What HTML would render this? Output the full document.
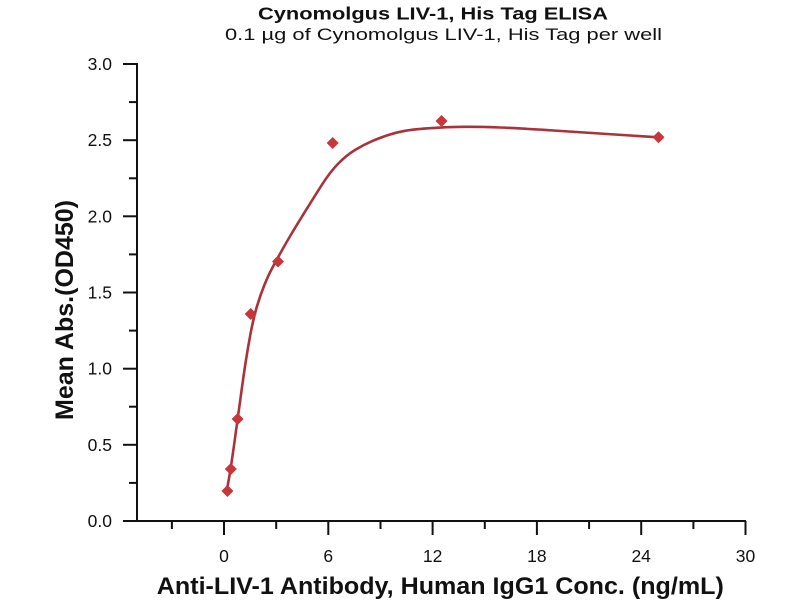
<!DOCTYPE html>
<html>
<head>
<meta charset="utf-8">
<style>
  html,body{margin:0;padding:0;background:#fff;}
  svg{display:block;}
  text{font-family:"Liberation Sans",sans-serif;fill:#111;}
</style>
</head>
<body>
<svg width="800" height="600" viewBox="0 0 800 600" xmlns="http://www.w3.org/2000/svg">
  <rect width="800" height="600" fill="#fff"/>
  <!-- Titles -->
  <text x="433" y="19.5" text-anchor="middle" font-size="17.5" font-weight="bold" textLength="350" lengthAdjust="spacingAndGlyphs">Cynomolgus LIV-1, His Tag ELISA</text>
  <text x="443.5" y="40" text-anchor="middle" font-size="17" textLength="437" lengthAdjust="spacingAndGlyphs">0.1 µg of Cynomolgus LIV-1, His Tag per well</text>

  <!-- Axes -->
  <g stroke="#111" stroke-width="2" fill="none">
    <line x1="137" y1="63" x2="137" y2="522"/>
    <line x1="136" y1="521" x2="746" y2="521"/>
    <!-- Y major ticks -->
    <line x1="123" y1="64" x2="137" y2="64"/>
    <line x1="123" y1="140.2" x2="137" y2="140.2"/>
    <line x1="123" y1="216.3" x2="137" y2="216.3"/>
    <line x1="123" y1="292.5" x2="137" y2="292.5"/>
    <line x1="123" y1="368.7" x2="137" y2="368.7"/>
    <line x1="123" y1="444.8" x2="137" y2="444.8"/>
    <line x1="123" y1="521" x2="137" y2="521"/>
    <!-- Y minor ticks -->
    <line x1="129" y1="102.1" x2="137" y2="102.1"/>
    <line x1="129" y1="178.3" x2="137" y2="178.3"/>
    <line x1="129" y1="254.4" x2="137" y2="254.4"/>
    <line x1="129" y1="330.6" x2="137" y2="330.6"/>
    <line x1="129" y1="406.7" x2="137" y2="406.7"/>
    <line x1="129" y1="482.9" x2="137" y2="482.9"/>
    <!-- X major ticks -->
    <line x1="224" y1="521" x2="224" y2="535"/>
    <line x1="328.3" y1="521" x2="328.3" y2="535"/>
    <line x1="432.6" y1="521" x2="432.6" y2="535"/>
    <line x1="536.9" y1="521" x2="536.9" y2="535"/>
    <line x1="641.2" y1="521" x2="641.2" y2="535"/>
    <line x1="745.5" y1="521" x2="745.5" y2="535"/>
    <!-- X minor ticks -->
    <line x1="171.9" y1="521" x2="171.9" y2="529"/>
    <line x1="276.2" y1="521" x2="276.2" y2="529"/>
    <line x1="380.5" y1="521" x2="380.5" y2="529"/>
    <line x1="484.8" y1="521" x2="484.8" y2="529"/>
    <line x1="589.1" y1="521" x2="589.1" y2="529"/>
    <line x1="693.4" y1="521" x2="693.4" y2="529"/>
  </g>

  <!-- Y tick labels -->
  <g font-size="17.5" text-anchor="end">
    <text x="112" y="70">3.0</text>
    <text x="112" y="146.2">2.5</text>
    <text x="112" y="222.3">2.0</text>
    <text x="112" y="298.5">1.5</text>
    <text x="112" y="374.7">1.0</text>
    <text x="112" y="450.8">0.5</text>
    <text x="112" y="527">0.0</text>
  </g>
  <!-- X tick labels -->
  <g font-size="17.5" text-anchor="middle">
    <text x="224" y="562">0</text>
    <text x="328.3" y="562">6</text>
    <text x="432.6" y="562">12</text>
    <text x="536.9" y="562">18</text>
    <text x="641.2" y="562">24</text>
    <text x="745.5" y="562">30</text>
  </g>

  <!-- Axis titles -->
  <text x="440.3" y="594" text-anchor="middle" font-size="24" font-weight="bold" textLength="567" lengthAdjust="spacingAndGlyphs">Anti-LIV-1 Antibody, Human IgG1 Conc. (ng/mL)</text>
  <text transform="translate(73,310) rotate(-90)" x="0" y="0" text-anchor="middle" font-size="25" font-weight="bold" textLength="220" lengthAdjust="spacingAndGlyphs">Mean Abs.(OD450)</text>

  <!-- Fitted curve (smoothed) -->
  <path fill="none" stroke="#a8333a" stroke-width="2.6" stroke-linejoin="round" stroke-linecap="round"
    d="M226.7,491 L228.7,480 Q230.7,469 234.2,444 Q237.7,419 240.6,397.5 Q243.5,376 245.75,361.5 Q248,347 250.75,332.5 Q253.5,318 256.75,307 Q260,296 264,286 Q268,276 272,268.5 Q276,261 281,252 Q286,243 291.35,234 Q296.7,225 305,211.65 Q313.3,198.3 321.65,185.15 Q330,172 338.35,163.5 Q346.7,155 355,150 Q363.3,145 371.65,141.35 Q380,137.7 388.35,135 Q396.7,132.3 405,130.8 Q413.3,129.3 430,128.15 Q446.7,127 463.35,126.85 Q480,126.7 500,127.5 Q520,128.3 553.5,130.5 Q587,132.7 622.5,135 L658,137.3"/>

  <!-- Data markers -->
  <g fill="#c8363a">
    <polygon points="227.4,485 233.4,491 227.4,497 221.4,491"/>
    <polygon points="230.8,463 236.8,469 230.8,475 224.8,469"/>
    <polygon points="237.6,413 243.6,419 237.6,425 231.6,419"/>
    <polygon points="250.7,308 256.7,314 250.7,320 244.7,314"/>
    <polygon points="278,255.5 284,261.5 278,267.5 272,261.5"/>
    <polygon points="332.7,137 338.7,143 332.7,149 326.7,143"/>
    <polygon points="441.5,115 447.5,121 441.5,127 435.5,121"/>
    <polygon points="658.5,131.3 664.5,137.3 658.5,143.3 652.5,137.3"/>
  </g>
</svg>
</body>
</html>
